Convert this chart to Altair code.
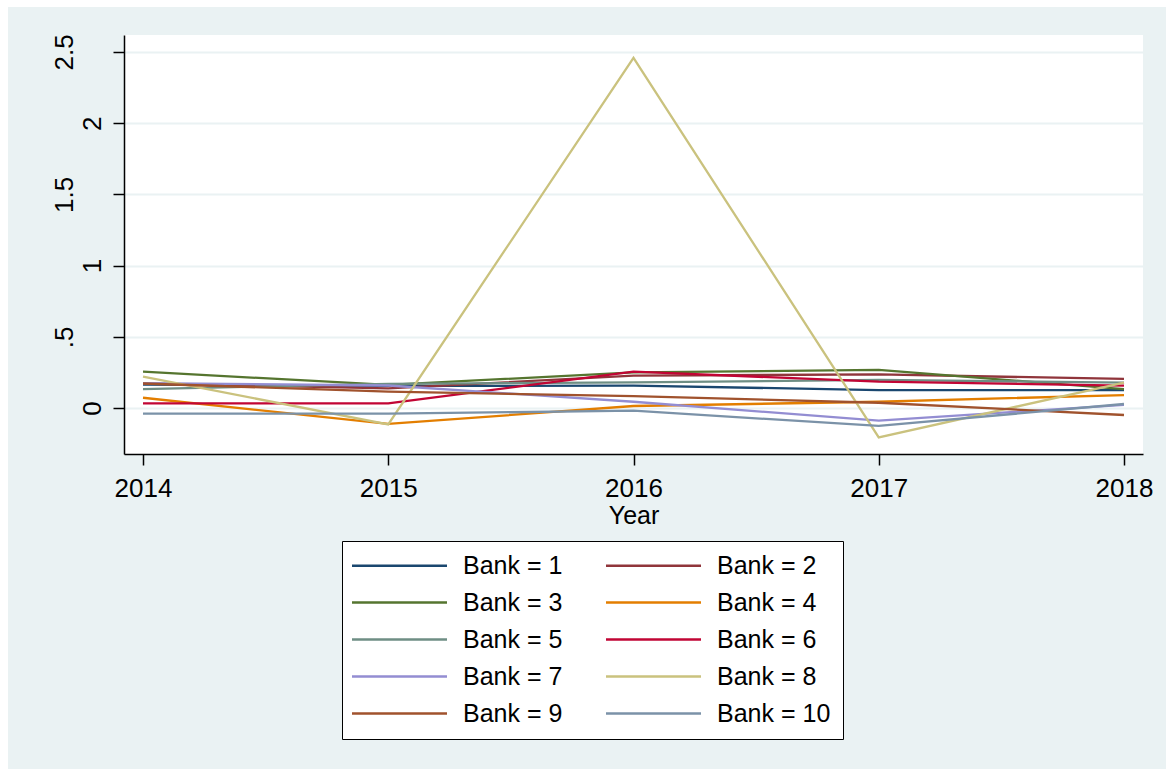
import altair as alt
import pandas as pd

# ---- data ----
years = [2014, 2015, 2016, 2017, 2018]
bank1 = [0.165, 0.155, 0.157, 0.126, 0.126]
bank2 = [0.172, 0.138, 0.227, 0.236, 0.204]
bank3 = [0.255, 0.162, 0.250, 0.267, 0.133]
bank4 = [0.072, -0.112, 0.014, 0.044, 0.091]
bank5 = [0.133, 0.170, 0.180, 0.197, 0.178]
bank6 = [0.033, 0.033, 0.255, 0.185, 0.157]
bank7 = [0.175, 0.158, 0.044, -0.089, 0.022]
bank8 = [0.220, -0.115, 2.458, -0.206, 0.178]
bank9 = [0.172, 0.115, 0.084, 0.037, -0.049]
bank10 = [-0.040, -0.040, -0.019, -0.126, 0.028]
series = [bank1, bank2, bank3, bank4, bank5, bank6, bank7, bank8, bank9, bank10]
labels = [f"Bank = {i}" for i in range(1, 11)]
colors = ["#1A476F", "#90353B", "#55752F", "#E37E00", "#6E8E84",
          "#C10534", "#938DD2", "#CAC27E", "#A0522D", "#7B92A8"]
y_ticks = [0, 0.5, 1, 1.5, 2, 2.5]

rows = []
for lab, vals in zip(labels, series):
    for yr, v in zip(years, vals):
        rows.append({"Year": yr, "value": v, "Bank": lab})
df = pd.DataFrame(rows)

W, H = 1019, 419
FONT = "Liberation Sans"

x_scale = alt.Scale(domain=[2013.9225, 2018.0775], nice=False, zero=False)
y_scale = alt.Scale(domain=[-0.323, 2.619], nice=False, zero=False)

lines = alt.Chart(df).mark_line(strokeWidth=2.3).encode(
    x=alt.X("Year:Q", scale=x_scale,
            axis=alt.Axis(values=years, format="d", title="Year", grid=False,
                          tickSize=11, labelPadding=10, labelFlush=False,
                          titleFontSize=25, titleFontWeight="normal",
                          titlePadding=2, labelFontSize=26)),
    y=alt.Y("value:Q", scale=y_scale,
            axis=alt.Axis(values=y_ticks, title=None, grid=True,
                          gridColor="#EAF2F3", gridWidth=2,
                          tickSize=11, labelAngle=270, labelAlign="center",
                          labelBaseline="bottom", labelOverlap=False,
                          labelFontSize=26,
                          labelPadding={"condition": {"test": "datum.value % 1 != 0", "value": 36},
                                        "value": 7.5},
                          labelExpr="replace(toString(datum.value), /^0\\./, '.')")),
    color=alt.Color("Bank:N", sort=labels,
                    scale=alt.Scale(domain=labels, range=colors),
                    legend=alt.Legend(orient="none", legendX=218, legendY=506,
                                      direction="horizontal",
                                      columns=2, title=None,
                                      symbolType="M-1,0L9,0", symbolSize=361,
                                      symbolStrokeWidth=2.3, symbolOffset=-5,
                                      labelOffset=89,
                                      labelFontSize=25, labelFont=FONT,
                                      labelColor="black", labelLimit=300,
                                      padding=12, fillColor="white",
                                      strokeColor="black", columnPadding=38,
                                      rowPadding=11)),
)

strip_data = alt.Data(values=[{"k": 0}])
left_strip = alt.Chart(strip_data).mark_rect(color="white").encode(
    x=alt.value(-124), x2=alt.value(-116), y=alt.value(-35), y2=alt.value(734))
top_strip = alt.Chart(strip_data).mark_rect(color="white").encode(
    x=alt.value(-124), x2=alt.value(1042), y=alt.value(-35), y2=alt.value(-28))

chart = alt.layer(left_strip, top_strip, lines).properties(
    width=W, height=H,
    autosize=alt.AutoSizeParams(type="none"),
    padding={"left": 124, "top": 35, "right": 23, "bottom": 315},
    background="#EAF2F3",
).configure_view(
    fill="white", strokeWidth=0
).configure_axis(
    domainColor="black", tickColor="black", labelColor="black",
    titleColor="black", labelFont=FONT, titleFont=FONT,
    domainWidth=1.5, tickWidth=1.5
)

chart.save("out.html", embed_options={"renderer": "svg", "actions": False})
